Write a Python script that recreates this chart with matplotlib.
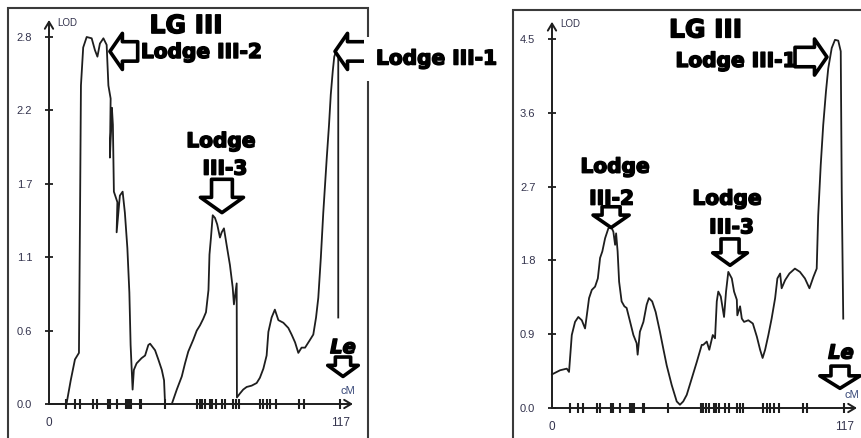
import matplotlib
matplotlib.use("Agg")
import matplotlib.pyplot as plt
import matplotlib.patheffects as pe
from matplotlib.patches import Rectangle

# =====================================================
# DATA  (LG III interval mapping, two traits)
# =====================================================

map_length = 117

# marker positions along the linkage group (cM)
markers_cm = [7.0, 10.3, 12.4, 17.8, 19.1, 23.6, 24.3, 27.1,
              31.0, 31.6, 32.2, 32.9, 36.4, 36.9, 46.5,
              59.3, 60.4, 61.5, 62.6, 64.6, 65.3, 66.8, 69.2, 70.6,
              73.8, 75.0, 76.3, 84.4, 85.8, 87.2, 88.6, 90.8,
              100.3, 102.0, 116.7]

# left trait scan
left_cm = [0, 6.4, 7.1, 8.7, 10.4, 12.0, 12.4, 12.8, 13.7, 15.1, 17.1, 18.4,
           19.4, 20.4, 21.8, 23.1, 23.8, 24.7, 24.4, 25.2, 25.6, 26.0, 27.4,
           27.1, 28.4, 29.5, 30.4, 31.4, 32.2, 32.7, 33.5, 34.0, 35.1, 37.1,
           38.5, 39.8, 40.5, 42.5, 43.8, 45.2, 46.1, 46.5, 49.2, 51.2, 53.2,
           54.5, 55.8, 57.8, 59.2, 60.5, 61.8, 62.9, 63.9, 64.3, 64.9, 65.6,
           66.5, 67.4, 68.5, 69.2, 70.1, 71.2, 72.5, 73.6, 74.1, 75.2, 75.3,
           76.5, 77.8, 79.2, 81.2, 83.2, 84.5, 85.9, 87.2, 87.9, 89.2, 90.5,
           91.9, 93.9, 95.9, 97.2, 98.6, 99.9, 101.2, 102.6, 104.6, 105.9,
           107.0, 107.9, 108.9, 109.9, 110.6, 111.3, 112.2, 112.9, 113.7,
           114.3, 115.0, 115.9, 115.9]
left_lod = [0, 0, 0.01, 0.18, 0.34, 0.39, 1.37, 2.43, 2.72, 2.80, 2.79, 2.70,
            2.65, 2.75, 2.79, 2.74, 2.43, 2.33, 1.88, 2.26, 2.13, 1.62, 1.54,
            1.31, 1.59, 1.62, 1.46, 1.19, 0.85, 0.45, 0.11, 0.26, 0.31, 0.35,
            0.37, 0.45, 0.46, 0.41, 0.34, 0.26, 0.18, 0.0, 0.0, 0.11, 0.21,
            0.31, 0.40, 0.49, 0.56, 0.60, 0.65, 0.70, 0.87, 1.14, 1.27, 1.44,
            1.42, 1.37, 1.27, 1.31, 1.34, 1.21, 1.06, 0.89, 0.76, 0.92, 0.05,
            0.08, 0.11, 0.13, 0.14, 0.16, 0.20, 0.27, 0.37, 0.55, 0.66, 0.72,
            0.64, 0.62, 0.58, 0.53, 0.47, 0.39, 0.43, 0.43, 0.49, 0.53,
            0.66, 0.81, 1.11, 1.46, 1.67, 1.88, 2.13, 2.36, 2.54,
            2.65, 2.69, 2.69, 0.66]

# right trait scan
right_cm = [0, 3.2, 5.9, 6.8, 7.9, 9.2, 10.5, 11.9, 13.2, 13.9, 14.8, 15.9,
            17.2, 18.3, 19.2, 20.1, 21.2, 22.5, 23.6, 24.5, 25.2, 25.6, 26.2,
            26.8, 27.8, 28.9, 29.8, 31.2, 32.5, 33.8, 34.2, 35.1, 36.5, 37.8,
            38.7, 40.0, 41.4, 43.1, 44.4, 45.8, 47.8, 49.8, 51.1, 52.4, 53.8,
            55.8, 57.8, 59.8, 60.4, 61.8, 62.8, 64.2, 65.1, 65.8, 66.4, 67.4,
            68.7, 69.5, 70.4, 71.8, 72.7, 73.8, 74.0, 75.1, 75.8, 76.7, 78.4,
            80.2, 81.8, 83.1, 84.1, 85.1, 86.4, 87.7, 89.1, 90.0, 91.1, 91.7,
            93.1, 94.8, 97.0, 99.0, 101.0, 102.8, 104.4, 105.7, 106.3, 107.3,
            108.3, 109.4, 110.3, 111.7, 113.0, 114.3, 115.3, 115.7, 116.3]
right_lod = [0.41, 0.46, 0.48, 0.44, 0.89, 1.05, 1.11, 1.07, 0.97, 1.13, 1.34,
             1.44, 1.48, 1.58, 1.83, 1.91, 2.07, 2.19, 2.21, 2.15, 1.99, 2.13,
             1.91, 1.54, 1.30, 1.24, 1.22, 1.05, 0.89, 0.79, 0.65, 0.93, 1.05,
             1.26, 1.34, 1.30, 1.17, 0.93, 0.73, 0.52, 0.28, 0.08, 0.04, 0.08,
             0.16, 0.36, 0.56, 0.77, 0.77, 0.81, 0.71, 0.89, 0.85, 1.30, 1.42,
             1.36, 1.11, 1.42, 1.66, 1.58, 1.42, 1.32, 1.13, 1.24, 1.09, 1.05,
             1.07, 1.03, 0.87, 0.71, 0.61, 0.71, 0.89, 1.09, 1.34, 1.58, 1.64,
             1.46, 1.56, 1.64, 1.70, 1.66, 1.58, 1.46, 1.60, 1.70, 2.35, 2.96,
             3.45, 3.86, 4.14, 4.39, 4.49, 4.48, 4.35, 2.64, 1.09]

left_ticks = [0, 0.56, 1.12, 1.68, 2.24, 2.8]
left_tick_labels = ['0.0', '0.6', '1.1', '1.7', '2.2', '2.8']
right_ticks = [0, 0.9, 1.8, 2.7, 3.6, 4.5]
right_tick_labels = ['0.0', '0.9', '1.8', '2.7', '3.6', '4.5']

# =====================================================
# STYLE
# =====================================================

plt.rcParams['font.family'] = ['Liberation Sans', 'DejaVu Sans']

INK = '#1e1e1e'
SMALL = '#33334d'
# heavy bold look for the QTL labels
HEAVY = [pe.withStroke(linewidth=1.1, foreground='black')]
BOLD = dict(family='DejaVu Sans', fontweight='bold', color='black',
            path_effects=HEAVY)


def block_arrow(ax, tip, dx, dy, head_w, head_l, tail_w):
    # hollow block arrow, tip in data coords, tail offset in points
    style = f'simple,head_length={head_l},head_width={head_w},tail_width={tail_w}'
    ax.annotate('', xy=tip, xytext=(dx, dy), textcoords='offset points',
                annotation_clip=False, zorder=5,
                arrowprops=dict(arrowstyle=style, mutation_scale=1,
                                fc='white', ec='black', lw=2.6,
                                shrinkA=0, shrinkB=0))


def lod_panel(ax, cm, lod, ymax, ticks, tick_labels, y_arrow):
    ax.set_facecolor('none')
    for s in ax.spines.values():
        s.set_visible(False)
    ax.set_xlim(0, map_length)
    ax.set_ylim(0, ymax)

    # axes drawn as open arrows
    ax.annotate('', xy=(0, y_arrow), xytext=(0, 0), annotation_clip=False,
                arrowprops=dict(arrowstyle='->,head_length=0.5,head_width=0.3',
                                lw=1.4, color=INK, shrinkA=0, shrinkB=0))
    ax.annotate('', xy=(map_length * 1.041, 0), xytext=(0, 0), annotation_clip=False,
                arrowprops=dict(arrowstyle='->,head_length=0.5,head_width=0.3',
                                lw=1.4, color=INK, shrinkA=0, shrinkB=0))

    ax.set_yticks(ticks, tick_labels, fontsize=8, color=SMALL)
    ax.tick_params(axis='y', direction='inout', length=6, width=1.3,
                   color=INK, pad=9)
    ax.set_xticks([0, map_length], ['0', str(map_length)], fontsize=8.5, color=SMALL)
    ax.tick_params(axis='x', length=0, pad=9)

    ax.plot(cm, lod, color=INK, lw=1.3, clip_on=False, zorder=3)
    ax.plot(markers_cm, [0] * len(markers_cm), ls='none', marker='|',
            markersize=6.5, mew=1.5, color=INK, clip_on=False, zorder=4)

    ax.text(3.4, y_arrow * 0.993, 'LOD', fontsize=7, color=SMALL,
            ha='left', va='center')
    ax.text(map_length, ymax * 0.035, 'cM', fontsize=8, color='#3a4a7a',
            ha='left', va='center', clip_on=False)


# =====================================================
# FIGURE
# =====================================================

fig = plt.figure(figsize=(8.61, 4.38), dpi=100)

# panel frames
fig.add_artist(Rectangle((8 / 861, -0.1), 360 / 861, 0.1 + 430 / 438,
                         transform=fig.transFigure, fill=False,
                         ec='#3a3a3a', lw=1.5, zorder=-1))
fig.add_artist(Rectangle((513 / 861, -0.1), 0.5, 0.1 + 428 / 438,
                         transform=fig.transFigure, fill=False,
                         ec='#3a3a3a', lw=1.5, zorder=-1))

ax1 = fig.add_axes([49 / 861, 34 / 438, 292 / 861, 367 / 438])
ax2 = fig.add_axes([552 / 861, 30 / 438, 293 / 861, 369 / 438])

# ---------------- left panel ----------------
lod_panel(ax1, left_cm, left_lod, 2.8, left_ticks, left_tick_labels, 2.93)

ax1.text(54.9, 2.83, 'LG III', fontsize=18, ha='center', va='baseline', **BOLD)
ax1.text(61.1, 2.64, 'Lodge III-2', fontsize=14.5, ha='center', va='baseline', **BOLD)
ax1.text(155.3, 2.59, 'Lodge III-1', fontsize=14.5, ha='center', va='baseline',
         clip_on=False, zorder=6,
         bbox=dict(boxstyle='square,pad=0.6', fc='white', ec='none'), **BOLD)
ax1.text(68.9, 1.96, 'Lodge', fontsize=14.5, ha='center', va='baseline', **BOLD)
ax1.text(70.5, 1.75, 'III-3', fontsize=14.5, ha='center', va='baseline', **BOLD)
ax1.text(117.8, 0.43, 'Le', fontsize=14, ha='center', va='center',
         family='DejaVu Sans', fontweight='bold', style='italic', color='black',
         path_effects=HEAVY)

block_arrow(ax1, (24.4, 2.69), 20, 0, 26, 9, 14)
block_arrow(ax1, (114.6, 2.69), 24, 0, 26, 9, 14)
block_arrow(ax1, (69.3, 1.46), 0, 24, 31, 11, 15)
block_arrow(ax1, (117.8, 0.21), 0, 14, 22, 8, 11)

# ---------------- right panel ----------------
lod_panel(ax2, right_cm, right_lod, 4.5, right_ticks, right_tick_labels, 4.71)

ax2.text(61.3, 4.52, 'LG III', fontsize=18, ha='center', va='baseline', **BOLD)
ax2.text(73.5, 4.16, 'Lodge III-1', fontsize=14.5, ha='center', va='baseline', **BOLD)
ax2.text(25.2, 2.87, 'Lodge', fontsize=14.5, ha='center', va='baseline', **BOLD)
ax2.text(23.8, 2.48, 'III-2', fontsize=14.5, ha='center', va='baseline', **BOLD)
ax2.text(69.9, 2.48, 'Lodge', fontsize=14.5, ha='center', va='baseline', **BOLD)
ax2.text(71.7, 2.13, 'III-3', fontsize=14.5, ha='center', va='baseline', **BOLD)
ax2.text(115.4, 0.67, 'Le', fontsize=14, ha='center', va='center',
         family='DejaVu Sans', fontweight='bold', style='italic', color='black',
         path_effects=HEAVY)

block_arrow(ax2, (109.8, 4.28), -23, 0, 26, 9, 14)
block_arrow(ax2, (23.6, 2.20), 0, 15, 26, 9, 13)
block_arrow(ax2, (71.1, 1.74), 0, 19, 25, 9, 13)
block_arrow(ax2, (115.0, 0.24), 0, 16, 29, 9, 13)

plt.savefig('out.png', dpi=100)
